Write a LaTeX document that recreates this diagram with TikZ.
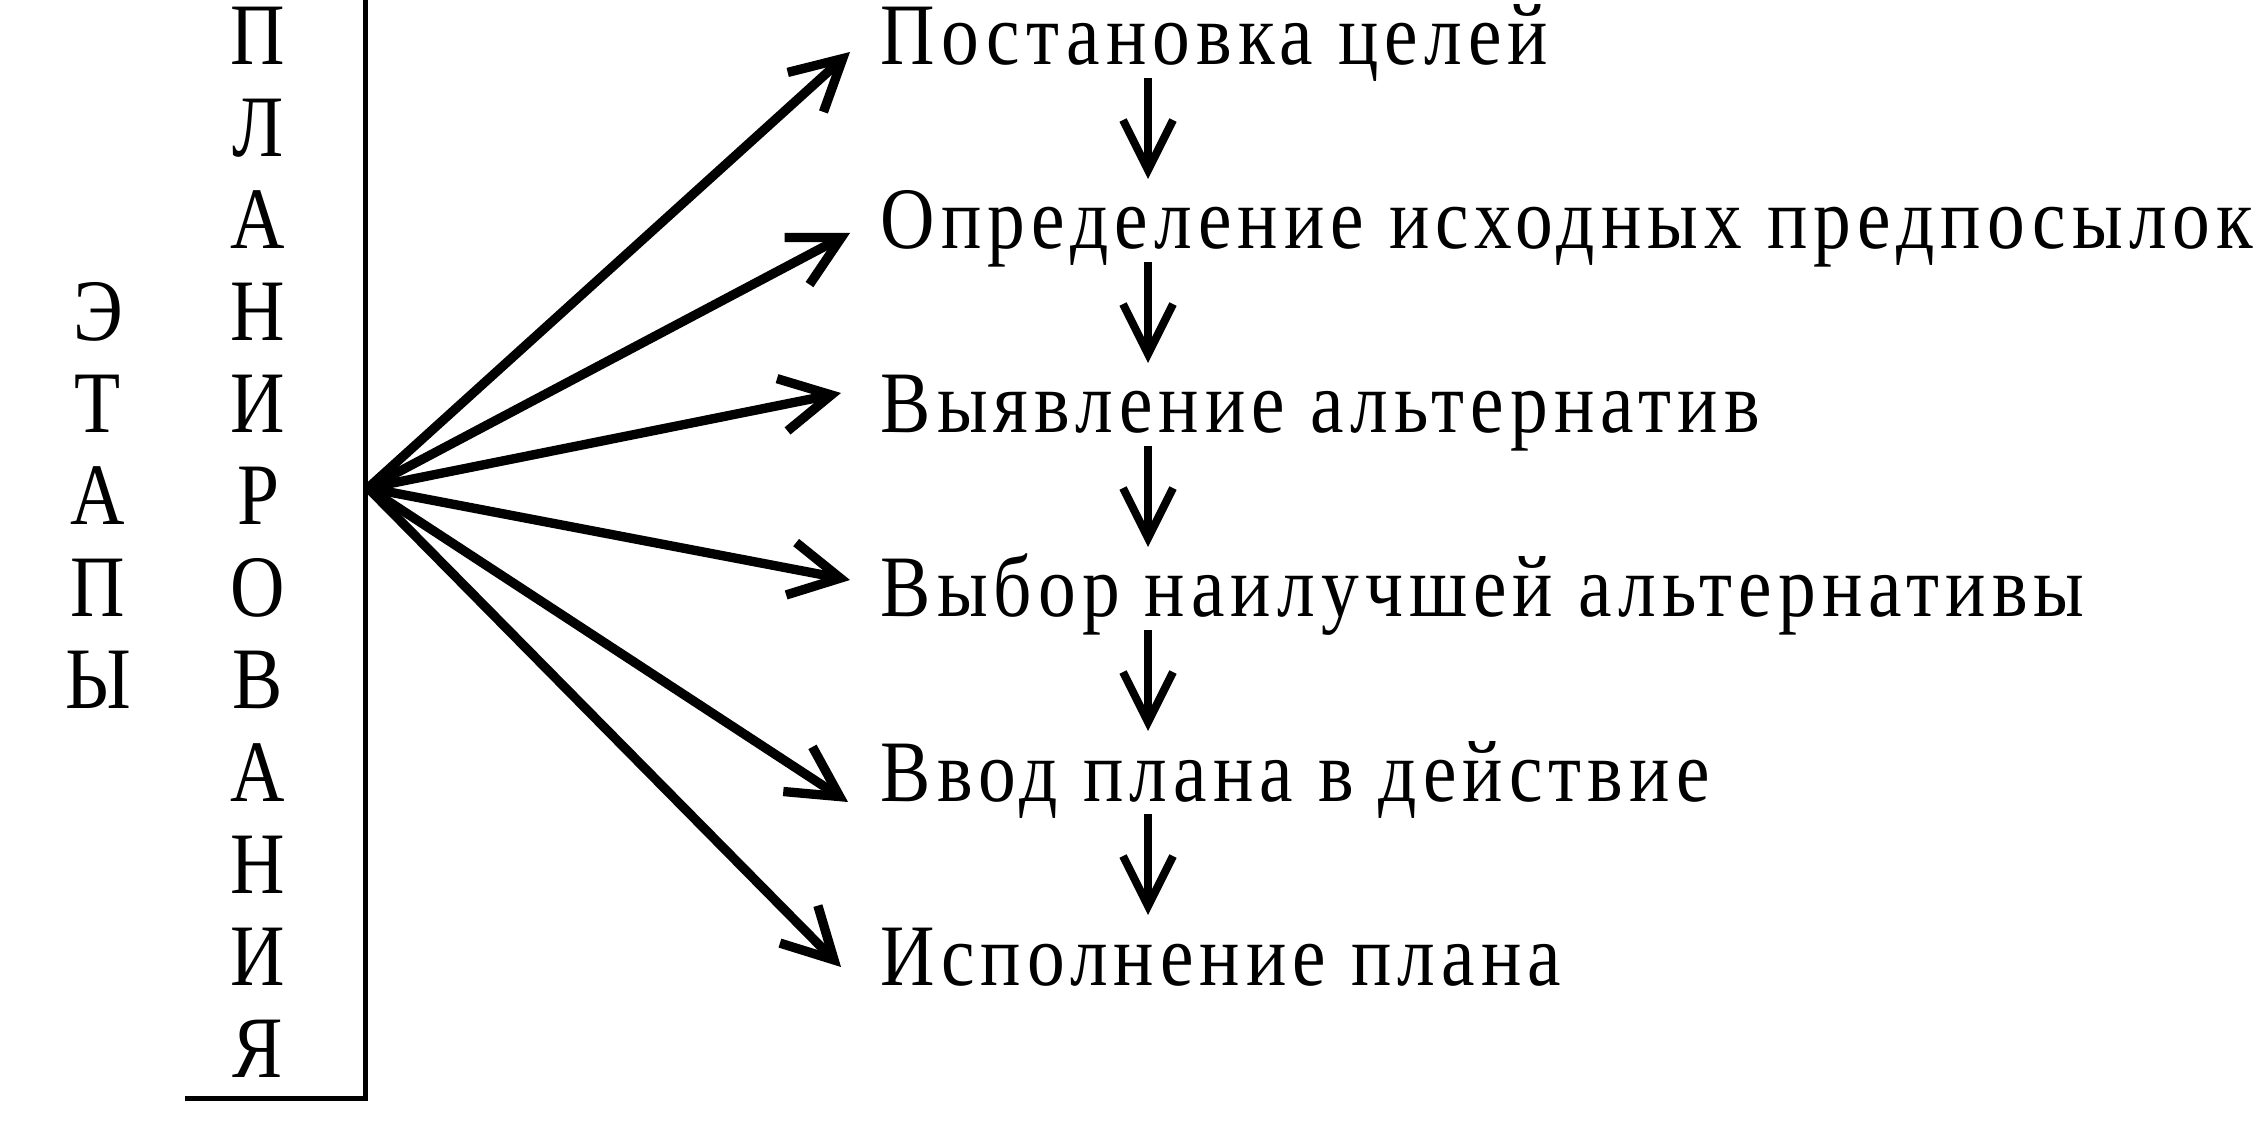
\documentclass[tikz,border=0pt]{standalone}
\usepackage{fontspec}
\setmainfont{Liberation Serif}[FakeStretch=0.86,LetterSpace=7]
\usetikzlibrary{arrows.meta,calc}
\begin{document}
\begin{tikzpicture}[x=0.3pt,y=-0.3pt,
  lbl/.style={inner sep=0pt, font=\fontsize{26.3pt}{30pt}\selectfont},
  stage/.style={lbl, anchor=base west},
  letter/.style={lbl, anchor=base},
  fan/.style={line width=2.8pt, -{Straight Barb[length=15pt,width=16pt]}},
  flow/.style={line width=2.4pt, -{Straight Barb[length=15pt,width=15pt]}},
  frame/.style={line width=1.5pt}]
\useasboundingbox (0,0) rectangle (2259,1123);
% vertical words
\foreach \ch [count=\i from 0] in {П,Л,А,Н,И,Р,О,В,А,Н,И,Я}
  \node[letter] (pl\i) at (258,{65+92*\i}) {\ch};
\foreach \ch [count=\i from 3] in {Э,Т,А,П,Ы}
  \node[letter] (et\i) at (98,{65+92*\i}) {\ch};
% frame
\coordinate (ftop) at (365,0);
\coordinate (fcorner) at (365,1098);
\coordinate (fleft) at (185,1098);
\draw[frame] (ftop) -- (fcorner) -- (fleft);
% stages
\node[stage] (s1) at (880,65)  {Постановка целей};
\node[stage] (s2) at (880,249) {Определение исходных предпосылок};
\node[stage] (s3) at (880,433) {Выявление альтернатив};
\node[stage] (s4) at (880,617) {Выбор наилучшей альтернативы};
\node[stage] (s5) at (880,801) {Ввод плана в действие};
\node[stage] (s6) at (880,985) {Исполнение плана};
% fan
\coordinate (o) at (368,488);
\coordinate (f1) at ($(s1.base west)+(-30,-13)$);
\coordinate (f2) at ($(s2.base west)+(-30,-16)$);
\coordinate (f3) at ($(s3.base west)+(-39,-40)$);
\coordinate (f4) at ($(s4.base west)+(-30,-37)$);
\coordinate (f5) at ($(s5.base west)+(-32,1)$);
\coordinate (f6) at ($(s6.base west)+(-39,-18)$);
\foreach \k in {1,...,6} \draw[fan] (o) -- (f\k);
% flow arrows
\foreach \a/\b in {1/2,2/3,3/4,4/5,5/6}{
  \coordinate (dt\a) at ($(s\a.base west)+(268,13)$);
  \coordinate (db\a) at ($(s\b.base west)+(268,-70)$);
  \draw[flow] (dt\a) -- (db\a);
}
\end{tikzpicture}
\end{document}
